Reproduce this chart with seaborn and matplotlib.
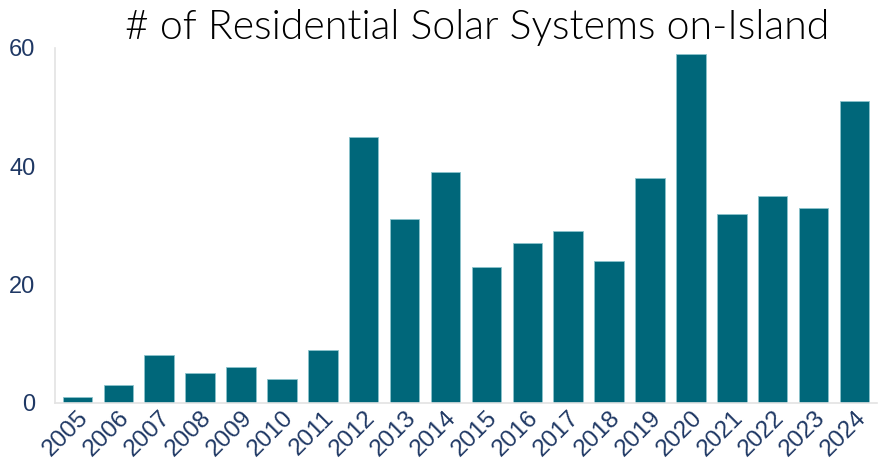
import matplotlib
matplotlib.use("Agg")
import matplotlib.pyplot as plt
import pandas as pd
import seaborn as sns

years = [str(y) for y in range(2005, 2025)]
systems = [1, 3, 8, 5, 6, 4, 9, 45, 31, 39, 23, 27, 29, 24, 38, 59, 32, 35, 33, 51]

BAR_COLOR = "#00677A"
TEXT_COLOR = "#1F3864"

df = pd.DataFrame({"year": years, "systems": systems})

sns.set_theme(style="white")
plt.rcParams["font.family"] = ["Liberation Sans", "DejaVu Sans"]

fig = plt.figure(figsize=(8.85, 4.7), dpi=100)
ax = fig.add_axes([0.062, 0.143, 0.929, 0.755])

sns.barplot(data=df, x="year", y="systems", color=BAR_COLOR, width=0.72,
            saturation=1, ax=ax, edgecolor="#8CC3CC", linewidth=0.6)

ax.set_ylim(0, 60)
ax.set_xlim(-0.55, len(years) - 0.45)
ax.set_yticks([0, 20, 40, 60])
ax.set_xlabel("")
ax.set_ylabel("")

for side in ["top", "right"]:
    ax.spines[side].set_visible(False)
for side in ["left", "bottom"]:
    ax.spines[side].set_color("#E3E3E3")
    ax.spines[side].set_linewidth(1.2)

ax.tick_params(axis="y", labelsize=17, colors=TEXT_COLOR, length=0, pad=14)
ax.tick_params(axis="x", labelsize=17.5, colors=TEXT_COLOR, length=0, pad=3)
plt.setp(ax.get_xticklabels(), rotation=45, ha="right", rotation_mode="anchor")

fig.text(0.539, 0.917, "# of Residential Solar Systems on-Island", ha="center",
         va="baseline", fontsize=29.5, fontweight=300, color="black",
         family=["Lato", "DejaVu Sans"])

fig.savefig("out.png", dpi=100)
